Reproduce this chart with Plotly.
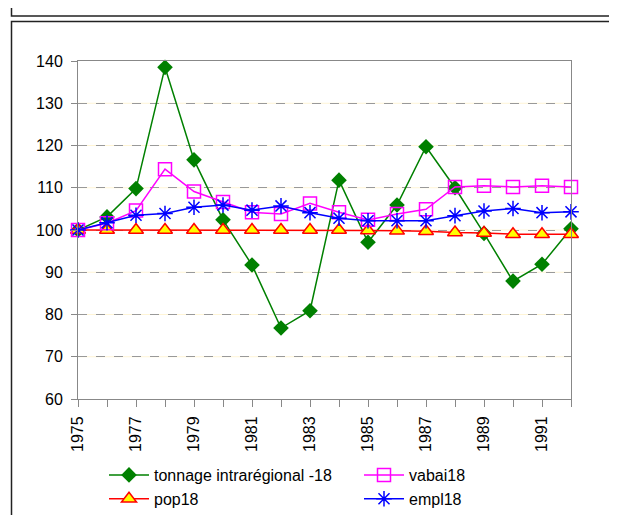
import plotly.graph_objects as go

years = list(range(1975, 1993))
tonnage = [100, 103.1, 109.8, 138.5, 116.6, 102.4, 91.7, 76.8, 80.9, 111.8, 97.1, 105.9, 119.7, 110.0, 99.2, 87.9, 91.9, 100.3]
vabai = [100, 101.6, 104.6, 114.4, 109.1, 106.6, 104.2, 103.8, 106.3, 104.2, 102.4, 103.8, 104.9, 110.2, 110.5, 110.2, 110.5, 110.2]
pop = [100, 100, 100, 100, 100, 100, 100, 100, 100, 100, 99.9, 99.8, 99.7, 99.4, 99.3, 99.0, 99.0, 99.0]
empl = [100, 101.7, 103.5, 103.9, 105.4, 105.9, 104.7, 105.7, 104.1, 102.8, 102.2, 102.2, 102.2, 103.4, 104.5, 105.1, 104.1, 104.3]
ytick_vals = [60, 70, 80, 90, 100, 110, 120, 130, 140]
xtick_labels = [str(y) if (y - 1975) % 2 == 0 else "" for y in years]

FONT = "Arial, Liberation Sans, sans-serif"

fig = go.Figure()
fig.add_trace(go.Scatter(x=years, y=tonnage, name="tonnage intrarégional -18", mode="lines+markers",
                         line=dict(color="#008000", width=1.5),
                         marker=dict(symbol="diamond", size=12, color="#008000"),
                         legend="legend", legendrank=1))
fig.add_trace(go.Scatter(x=years, y=pop, name="pop18", mode="lines+markers",
                         line=dict(color="#FF0000", width=1.5),
                         marker=dict(symbol="triangle-up", size=13, color="#FFFF00",
                                     line=dict(color="#FF0000", width=1.5)),
                         legend="legend", legendrank=2))
fig.add_trace(go.Scatter(x=years, y=vabai, name="vabai18", mode="lines+markers",
                         line=dict(color="#FF00FF", width=1.5),
                         marker=dict(symbol="square-open", size=13, color="#FF00FF",
                                     line=dict(color="#FF00FF", width=1.5)),
                         legend="legend2", legendrank=1))
fig.add_trace(go.Scatter(x=years, y=empl, name="empl18", mode="lines+markers",
                         line=dict(color="#0000FF", width=1.5),
                         marker=dict(symbol="asterisk-open", size=13, color="#0000FF",
                                     line=dict(color="#0000FF", width=1.5)),
                         legend="legend2", legendrank=2))

# figure coords (page has an 8px body margin)
OFF = 8
W, H = 617 - OFF, 515 - OFF
L, R, T, B = 78 - OFF, 571 - OFF, 61 - OFF, 399 - OFF
def px(x):
    return (x - L) / (R - L)
def py(y):
    return (B - y) / (B - T)

shapes = []
for v in ytick_vals[1:-1]:
    shapes.append(dict(type="line", xref="paper", yref="y", x0=0, x1=1, y0=v, y1=v,
                       line=dict(color="#FFF5D6", width=1), layer="below"))
shapes.append(dict(type="rect", xref="paper", yref="paper", x0=px(11.5 - OFF), x1=px(613.5 - OFF),
                   y0=py(16 - OFF), y1=py(-20), line=dict(color="#222", width=1.5), layer="above"))
shapes.append(dict(type="rect", xref="paper", yref="paper", x0=px(11.5 - OFF), x1=px(613.5 - OFF),
                   y0=py(530), y1=py(21.5 - OFF), line=dict(color="#222", width=1.5), layer="above"))

legend_common = dict(orientation="v", xanchor="left", yanchor="bottom", itemwidth=40,
                     font=dict(family=FONT, size=16, color="black"), tracegroupgap=0,
                     bgcolor="rgba(0,0,0,0)", traceorder="normal")

fig.update_layout(
    width=W, height=H,
    margin=dict(l=L, r=W - R, t=T, b=H - B, pad=0, autoexpand=False),
    paper_bgcolor="white", plot_bgcolor="white",
    font=dict(family=FONT, size=16, color="black"),
    showlegend=True,
    legend=dict(x=px(96), y=py(H + 1), **legend_common),
    legend2=dict(x=px(351), y=py(H + 1), **legend_common),
    shapes=shapes,
    xaxis=dict(range=[1975, 1992], tickmode="array", tickvals=years, ticktext=xtick_labels,
               tickangle=-90, ticks="outside", ticklen=7, tickcolor="#888", tickwidth=1,
               showline=True, linecolor="#888", linewidth=1, mirror=True, showgrid=False,
               zeroline=False, tickfont=dict(size=16), automargin=False, ticklabelstandoff=3),
    yaxis=dict(range=[60, 140], tickmode="array", tickvals=ytick_vals, ticks="outside",
               ticklen=6, tickcolor="#888", showline=True, linecolor="#888", linewidth=1,
               mirror=True, showgrid=True, gridcolor="#999", griddash="dash", gridwidth=1,
               zeroline=False, tickfont=dict(size=16), automargin=False, ticklabelstandoff=5),
)
for tr in fig.data:
    tr.cliponaxis = False

fig.write_html("out.html")
